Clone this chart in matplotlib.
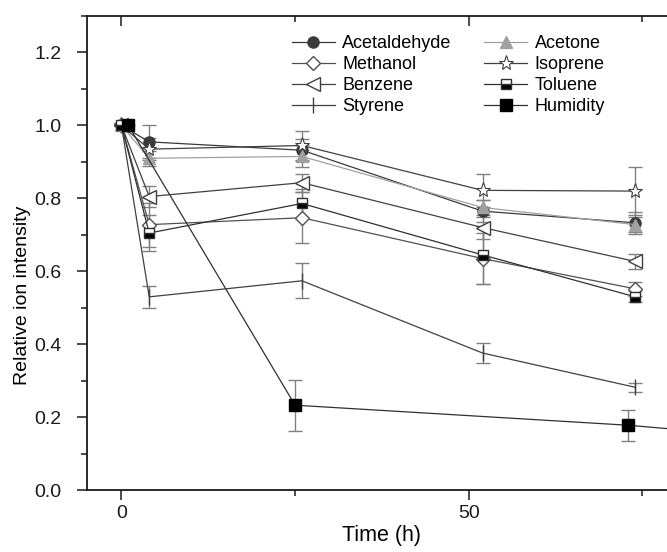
import numpy as np
import matplotlib.pyplot as plt

plt.rcParams['font.family'] = ['Liberation Sans', 'DejaVu Sans']

# Sampling times (h)
times = [0, 4, 26, 52, 74]
hum_times = [1, 25, 73, 96]

# Relative ion intensity and error bars
acetaldehyde = [1.0, 0.955, 0.932, 0.765, 0.733]
acetaldehyde_err = [0, 0.045, 0.03, 0.03, 0.03]
acetone = [1.0, 0.910, 0.915, 0.775, 0.728]
acetone_err = [0, 0.02, 0.03, 0.02, 0.02]
methanol = [1.0, 0.728, 0.747, 0.635, 0.552]
methanol_err = [0, 0.06, 0.07, 0.07, 0.02]
isoprene = [1.0, 0.935, 0.945, 0.822, 0.820]
isoprene_err = [0, 0.03, 0.04, 0.045, 0.065]
benzene = [1.0, 0.805, 0.843, 0.720, 0.627]
benzene_err = [0, 0.03, 0.025, 0.03, 0.02]
toluene = [1.0, 0.705, 0.786, 0.645, 0.530]
toluene_err = [0, 0.05, 0.04, 0.08, 0.015]
styrene = [1.0, 0.530, 0.574, 0.376, 0.282]
styrene_err = [0, 0.03, 0.048, 0.027, 0.012]
humidity = [1.0, 0.233, 0.178, 0.140]
humidity_err = [0, 0.07, 0.042, 0]

fig = plt.figure(figsize=(6.67, 5.52), dpi=100)
ax = fig.add_axes([0.130, 0.112, 0.885, 0.859])

err_col = '#808080'
series = [
    ("Acetaldehyde", times, acetaldehyde, acetaldehyde_err,
     dict(marker='o', color='#3a3a3a', mfc='#3a3a3a', mec='#3a3a3a')),
    ("Methanol", times, methanol, methanol_err,
     dict(marker='D', color='#505050', mfc='white', mec='#505050', ms=7)),
    ("Benzene", times, benzene, benzene_err,
     dict(marker='<', color='#404040', mfc='white', mec='#404040', ms=10)),
    ("Styrene", times, styrene, styrene_err,
     dict(marker='|', color='#404040', mec='#404040', ms=12)),
    ("Acetone", times, acetone, acetone_err,
     dict(marker='^', color='#a0a0a0', mfc='#a0a0a0', mec='#a0a0a0')),
    ("Isoprene", times, isoprene, isoprene_err,
     dict(marker='*', color='#404040', mfc='white', mec='#404040', ms=11, mew=0.8)),
    ("Toluene", times, toluene, toluene_err,
     dict(marker='s', color='#303030', mfc='black', mec='#303030', fillstyle='bottom', mfcalt='white', ms=7)),
    ("Humidity", hum_times, humidity, humidity_err,
     dict(marker='s', color='#303030', mfc='black', mec='black', ms=8)),
]

handles = []
for name, x, y, e, style in series:
    ax.errorbar(x, y, yerr=e, fmt='none', ecolor=err_col, elinewidth=1.0,
                capsize=5, capthick=1.0, zorder=2)
    kw = dict(ms=8, mew=1.0)
    kw.update(style)
    h, = ax.plot(x, y, lw=0.9, zorder=3, label=name, **kw)
    handles.append(h)

ax.set_xlim(-5, 80)
ax.set_ylim(0, 1.3)
ax.set_xticks([0, 50])
ax.set_xticks([25, 75], minor=True)
ax.set_yticks(np.arange(0, 1.21, 0.2))
ax.set_yticks(np.arange(0.1, 1.31, 0.2), minor=True)
ax.yaxis.set_major_formatter(plt.FormatStrFormatter('%.1f'))

ax.tick_params(which='both', labelsize=14, width=1.1, colors='#1a1a1a')
ax.tick_params(which='major', length=7)
ax.tick_params(which='minor', length=4)
ax.tick_params(axis='x', which='both', direction='out', top=True, pad=4)
ax.tick_params(axis='y', which='both', direction='out', right=True, pad=11)
# top and right ticks point into the plot
for t in ax.xaxis.get_major_ticks() + ax.xaxis.get_minor_ticks():
    t.tick2line.set_marker(3)
for t in ax.yaxis.get_major_ticks() + ax.yaxis.get_minor_ticks():
    t.tick2line.set_marker(0)
for sp in ax.spines.values():
    sp.set_linewidth(1.3)
    sp.set_color('#1a1a1a')

ax.set_xlabel("Time (h)", fontsize=15.5, labelpad=2)
ax.set_ylabel("Relative ion intensity", fontsize=14)
ax.yaxis.set_label_coords(-0.094, 0.41)

ax.legend(handles=handles, ncol=2, loc='upper left', bbox_to_anchor=(0.335, 0.975),
          frameon=False, fontsize=13, handlelength=2.4, handletextpad=0.4,
          labelspacing=0.22, columnspacing=1.8, borderaxespad=0)

fig.savefig("out.png", dpi=100)
